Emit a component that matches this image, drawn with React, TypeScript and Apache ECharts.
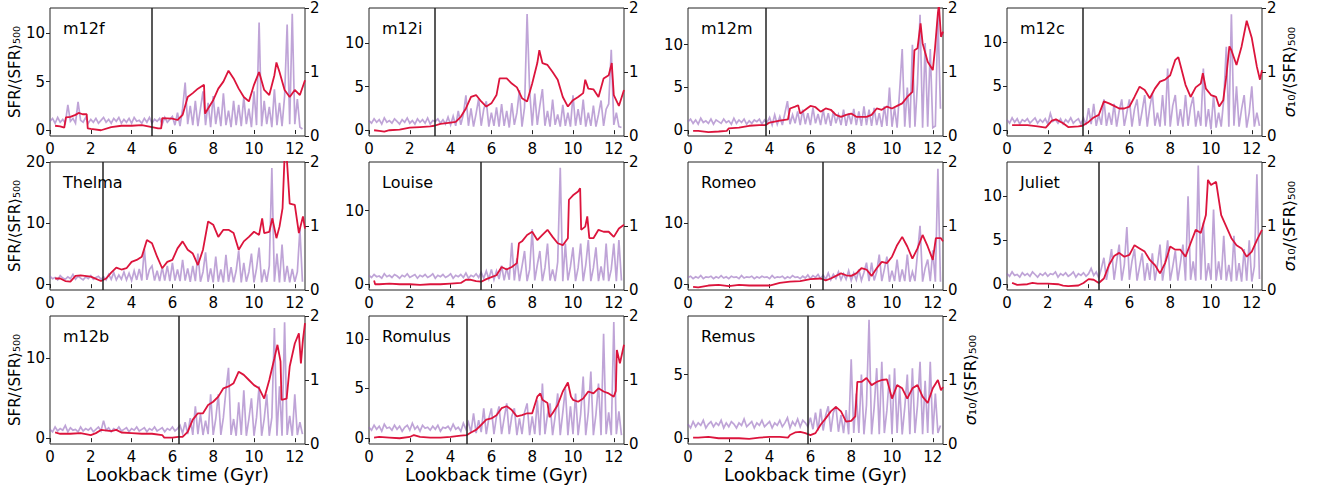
import React, { useEffect, useRef } from "react";
import * as echarts from "echarts";

// ---------------- data ----------------
const galaxyNames = ["m12f", "m12i", "m12m", "m12c", "Thelma", "Louise", "Romeo", "Juliet", "m12b", "Romulus", "Remus"];
const transitionTimes = [5.0, 3.2, 3.8, 3.7, 2.6, 5.5, 6.6, 4.5, 6.3, 4.8, 5.85];
const leftAxisMin = [-0.62, -0.67, -0.68, -0.66, -0.95, -0.8, -0.95, -0.66, -0.73, -0.59, -0.46];
const leftAxisMax = [12.6, 14.0, 14.3, 13.9, 20.0, 16.6, 19.9, 13.9, 15.3, 12.3, 9.6];
const leftTickValues = [[0, 5, 10], [0, 5, 10], [0, 5, 10], [0, 5, 10], [0, 10, 20], [0, 10], [0, 10], [0, 5, 10], [0, 10], [0, 5, 10], [0, 5]];
const rightTickValues = [0, 1, 2];
const timeTicks = [0, 2, 4, 6, 8, 10, 12];
const sfrTimeStep = 0.125; // Gyr between SFR samples, first sample at 0

// SFR / <SFR>_500 (left axis)
const sfrM12f = [
  0.9,1.2,0.7,1.3,0.8,1.1,0.7,2.6,0.9,1.2,0.7,2.9,1.0,0.8,1.3,0.7,
  1.1,0.8,1.2,0.7,1.0,1.3,0.8,1.1,0.7,1.2,0.9,1.3,0.7,1.1,0.8,1.2,
  0.7,1.3,0.9,1.0,0.7,1.2,0.8,1.3,0.7,1.1,0.9,1.2,0.6,1.3,0.8,1.1,
  1.4,0.5,1.8,0.4,2.2,4.9,0.6,2.5,0.5,3.0,0.4,2.2,4.0,0.5,2.8,0.3,
  3.5,0.6,2.4,0.4,3.8,0.5,2.0,0.3,3.0,0.5,2.6,0.4,3.4,0.6,2.2,0.3,
  4.0,0.5,11.1,0.4,3.0,0.6,2.4,0.3,4.2,0.5,2.8,0.4,3.5,10.9,0.6,12.0,
  0.6,3.2,0.3,0.1,
];
const sfrM12i = [
  1.1,0.8,1.3,0.9,1.2,0.7,1.4,0.9,1.1,0.8,1.3,1.0,0.7,1.2,0.9,1.4,
  0.8,1.1,0.7,1.3,0.9,1.2,0.8,1.4,0.7,1.1,1.0,1.3,0.8,1.2,0.7,1.5,
  0.6,1.6,0.5,2.2,0.6,1.8,4.0,0.5,
  2.5,0.4,1.9,3.6,0.5,2.4,3.3,0.4,
  2.0,0.5,2.6,0.4,3.0,0.5,2.2,0.3,
  3.1,0.6,2.0,4.6,0.4,2.6,13.3,4.5,
  0.5,4.2,0.6,2.8,4.7,0.5,2.2,0.4,
  3.5,0.6,1.8,0.4,2.9,0.5,2.0,0.4,
  4.0,0.5,2.4,0.6,3.5,0.4,2.0,0.5,
  2.8,0.4,1.8,3.4,0.5,2.4,3.0,9.2,
  0.6,2.0,0.4,0.3,
];
const sfrM12m = [
  1.0,1.3,0.8,1.2,0.7,1.4,0.9,1.1,0.8,1.3,0.7,1.2,1.0,0.8,1.3,0.9,
  1.1,0.7,1.4,0.8,1.2,0.9,1.3,0.7,1.1,0.8,1.2,1.0,1.3,0.7,1.2,0.9,
  1.5,0.6,1.8,0.7,1.6,0.6,2.0,3.4,
  0.7,1.8,0.8,2.2,0.6,2.4,0.7,2.0,
  0.6,2.6,0.8,1.9,0.6,2.4,0.7,2.0,
  0.5,2.2,0.8,1.8,0.6,2.4,0.5,2.0,
  0.7,2.5,0.6,2.2,0.5,2.8,0.6,2.4,
  0.5,2.6,0.6,2.0,0.4,2.8,0.5,5.0,
  0.4,2.6,0.3,4.6,9.5,0.4,5.0,0.3,
  10.0,0.4,5.5,13.5,0.3,10.2,0.4,9.5,
  0.3,0.5,13.5,2.5,
];
const sfrM12c = [
  1.2,0.8,1.4,0.9,1.3,0.7,1.2,1.0,1.3,0.8,1.1,1.4,0.8,1.2,0.9,1.3,
  0.7,1.9,1.0,1.2,0.8,1.3,0.7,1.2,0.9,1.4,0.8,1.1,1.3,0.7,
  1.4,0.6,2.5,0.7,3.0,0.5,1.8,0.6,
  3.5,0.5,2.0,0.6,3.0,0.4,2.2,3.5,
  0.5,2.0,3.5,0.4,2.4,3.5,0.5,2.2,
  4.0,0.4,2.6,4.2,0.5,2.0,0.4,4.0,
  0.5,7.0,0.4,2.8,4.0,0.5,2.4,0.4,
  4.0,0.5,2.6,3.8,0.4,2.2,0.5,7.0,
  0.4,2.4,0.1,4.0,0.3,2.0,0.4,3.5,
  9.5,0.4,13.2,0.5,5.0,0.4,2.4,4.0,
  0.3,2.0,5.0,0.4,2.0,0.5,
];
const sfrThelma = [
  1.3,0.9,1.1,0.7,1.4,1.0,0.8,1.2,0.9,1.6,0.8,1.3,1.0,0.7,1.2,0.9,1.4,0.8,1.1,1.3,0.8,
  1.2,0.7,1.6,0.8,1.9,0.7,1.5,0.8,
  2.0,0.7,1.8,0.6,2.2,0.7,2.5,0.6,
  5.8,0.7,2.4,3.0,0.6,2.2,0.5,2.8,
  0.6,3.0,0.5,3.5,0.6,2.4,0.5,4.0,
  0.6,2.6,0.4,3.0,0.5,5.0,0.4,2.0,
  5.2,0.4,2.6,0.3,4.5,0.4,2.4,0.3,
  4.8,0.4,2.8,0.3,2.2,5.5,0.3,3.5,
  0.4,2.0,5.0,0.3,2.6,6.0,0.3,2.4,
  0.4,3.0,19.0,0.4,5.0,0.3,6.5,0.4,
  3.0,0.3,2.5,0.4,2.0,9.0,0.4,
];
const sfrLouise = [
  1.2,0.9,1.3,1.0,1.1,0.8,1.4,1.0,1.2,0.9,1.3,1.1,0.8,1.2,1.0,1.4,
  0.9,1.1,1.3,0.8,1.2,1.0,1.3,0.9,1.1,1.4,0.8,1.2,1.0,1.3,0.9,1.1,
  1.4,0.8,1.2,1.0,1.3,0.9,1.5,0.8,1.2,1.0,1.4,0.9,
  1.6,0.8,1.8,0.7,2.0,0.6,1.8,0.7,
  2.5,0.5,2.2,0.6,5.6,0.5,3.5,0.4,
  2.4,4.5,0.4,2.0,7.5,0.5,2.6,4.5,
  0.4,2.2,5.5,0.5,2.0,0.4,3.0,15.8,
  0.4,5.5,0.5,2.4,5.0,0.4,2.2,5.5,
  0.4,2.6,6.0,0.4,2.2,5.0,0.4,2.4,
  0.5,5.5,0.4,2.0,5.5,0.4,6.0,0.5,
];
const sfrRomeo = [
  1.1,1.3,0.9,1.2,1.0,1.4,0.9,1.2,1.1,1.3,0.9,1.2,1.0,1.4,1.0,1.2,
  0.9,1.3,1.1,1.2,0.9,1.4,1.0,1.2,1.1,1.3,0.9,1.2,1.0,1.3,1.1,1.2,
  0.9,1.4,1.0,1.2,1.1,1.3,0.9,1.2,1.0,1.4,1.1,1.2,0.9,1.3,1.0,1.5,
  0.9,1.4,1.1,1.6,0.9,
  1.5,0.8,1.8,0.7,1.6,0.9,2.0,0.7,
  1.7,0.8,2.2,0.6,1.8,0.7,2.4,0.6,
  1.9,3.5,0.5,3.5,0.6,2.0,4.8,0.5,
  2.4,4.5,0.4,2.2,0.5,4.0,0.4,2.4,
  0.5,4.8,0.4,2.0,0.5,5.0,9.5,0.4,
  2.6,4.0,0.5,5.5,0.4,18.8,0.4,
];
const sfrJuliet = [
  1.2,0.9,1.4,1.0,1.1,0.8,1.3,1.0,1.2,0.9,1.4,1.1,0.8,1.2,1.0,1.3,
  0.9,1.2,1.1,1.4,0.8,1.2,1.0,1.3,0.9,1.1,1.4,0.8,1.2,1.0,1.3,0.9,
  1.2,1.8,1.0,1.4,
  0.7,1.8,3.0,0.5,2.2,4.0,0.5,2.6,
  4.5,0.4,2.2,6.5,0.5,2.6,4.0,0.4,
  2.0,3.5,0.4,2.4,0.5,3.5,0.4,2.2,
  4.5,0.4,2.4,5.0,0.4,2.0,3.8,0.4,
  2.4,4.5,0.4,10.0,0.5,2.6,0.4,13.5,
  0.5,7.0,0.4,2.4,0.5,8.5,0.4,2.6,
  0.5,5.5,0.4,2.2,0.3,5.5,0.4,2.4,
  0.3,4.0,0.4,5.0,0.3,2.0,12.5,0.6,
];
const sfrM12b = [
  1.1,0.8,1.4,0.9,1.2,1.0,1.6,0.8,1.3,1.0,1.1,0.8,1.4,0.9,1.2,1.0,
  1.3,0.8,1.1,1.4,0.9,2.2,1.0,1.3,0.8,1.2,1.0,1.4,0.9,1.1,1.3,0.8,
  1.2,1.0,1.4,0.9,1.1,1.3,0.8,1.2,1.0,1.4,0.9,1.1,1.3,0.8,1.2,1.0,
  1.4,0.9,1.2,
  1.6,0.6,2.0,0.5,2.5,0.4,4.0,0.5,
  3.0,0.4,2.2,0.5,5.5,0.4,2.4,5.5,
  0.4,2.6,6.0,8.8,0.4,2.4,0.3,4.5,
  0.4,6.0,0.3,2.4,5.0,0.3,2.6,6.5,
  0.3,2.4,5.5,0.3,2.6,13.8,0.3,6.5,
  0.3,14.5,0.4,2.8,0.3,5.5,0.4,2.0,
  0.5,
];
const sfrRomulus = [
  1.1,0.8,1.3,0.9,1.2,0.7,1.4,1.0,1.1,0.8,1.3,0.9,1.2,0.7,1.1,1.3,
  0.8,1.5,0.9,1.2,0.7,1.3,1.0,1.1,0.8,1.2,0.9,1.3,0.7,1.1,1.0,1.2,
  0.8,1.4,0.9,1.1,0.7,1.5,0.9,
  1.6,0.6,2.5,0.5,1.8,0.6,3.0,0.4,
  2.0,3.0,0.4,2.2,3.2,0.4,2.0,3.5,
  0.4,2.2,3.0,0.3,2.0,0.4,2.6,3.5,
  0.3,2.2,0.4,3.8,0.3,5.5,0.4,2.4,
  3.5,0.3,2.2,4.5,0.3,2.6,5.0,0.3,
  3.2,0.4,4.5,0.3,2.4,6.2,0.3,2.6,
  6.7,0.3,2.4,5.5,0.3,10.5,0.4,2.6,
  0.3,11.7,0.4,2.7,0.3,
];
const sfrRemus = [
  1.1,0.8,1.3,0.9,1.2,1.0,1.4,0.8,1.1,1.3,0.9,1.2,1.0,1.4,0.8,1.2,
  0.9,1.3,1.1,0.8,1.2,1.0,1.5,0.9,1.1,1.3,0.8,1.2,1.0,1.4,0.9,1.1,
  1.3,0.8,1.2,1.0,1.4,0.9,1.2,1.6,0.8,1.3,1.0,1.5,0.9,1.4,1.2,
  0.9,1.6,0.7,2.0,0.6,2.3,0.6,1.8,
  2.5,0.5,2.0,2.5,0.5,1.8,0.4,2.2,
  0.3,6.2,0.4,3.5,0.4,5.0,0.3,2.6,
  9.3,0.3,2.4,5.5,0.3,6.0,0.4,2.2,
  5.0,0.3,5.5,0.4,4.0,0.3,2.4,5.0,
  0.3,5.5,0.4,2.6,6.0,0.3,4.5,0.4,
  6.0,0.3,3.5,0.4,1.0,
];

// sigma_10 / <SFR>_500 (right axis), [lookback time Gyr, value]
const sigmaM12f = [
  [0.25,0.16],[0.5,0.15],[0.7,0.13],[0.78,0.29],[1.0,0.30],[1.25,0.33],[1.4,0.36],[1.6,0.34],[1.8,0.34],[1.85,0.12],
  [2.0,0.11],[2.5,0.09],[3.0,0.14],[3.5,0.16],[4.0,0.16],[4.5,0.17],[5.0,0.14],[5.3,0.12],[5.45,0.12],[5.5,0.28],
  [6.0,0.27],[6.25,0.25],[6.5,0.33],[6.75,0.61],[7.0,0.67],[7.25,0.74],[7.55,0.80],[7.6,0.35],[7.75,0.43],[8.0,0.56],
  [8.25,0.74],[8.5,0.85],[8.75,1.02],[9.0,0.9],[9.25,0.74],[9.5,0.61],[9.75,0.54],[10.0,0.80],[10.25,1.0],[10.5,0.72],
  [10.75,0.64],[11.0,0.95],[11.1,1.15],[11.25,1.0],[11.5,0.72],[11.75,0.61],[12.0,0.72],[12.25,0.64],[12.5,0.87],
];
const sigmaM12i = [
  [0.25,0.09],[0.5,0.08],[0.75,0.07],[1.0,0.09],[1.5,0.10],[2.0,0.13],[2.5,0.14],[3.0,0.15],[3.2,0.16],[3.5,0.19],
  [4.0,0.21],[4.25,0.22],[4.5,0.30],[4.75,0.43],[5.0,0.61],[5.25,0.64],[5.5,0.54],[5.75,0.46],[6.0,0.51],[6.25,0.64],
  [6.4,0.90],[6.75,0.90],[7.0,0.82],[7.25,0.76],[7.5,0.59],[7.75,0.54],[8.0,0.82],[8.25,1.14],[8.35,1.34],[8.5,1.14],
  [8.75,1.11],[9.0,1.0],[9.25,0.88],[9.5,0.61],[9.75,0.46],[10.0,0.56],[10.25,0.61],[10.5,0.67],[10.6,0.88],[10.75,0.74],
  [11.0,0.73],[11.25,0.61],[11.5,0.90],[11.75,0.95],[11.9,1.14],[12.0,0.64],[12.25,0.47],[12.5,0.72],
];
const sigmaM12m = [
  [0.25,0.08],[0.5,0.08],[1.0,0.06],[1.5,0.07],[1.9,0.08],[2.0,0.12],[2.5,0.13],[3.0,0.16],[3.5,0.17],[3.8,0.17],
  [4.0,0.21],[4.5,0.24],[4.9,0.26],[5.0,0.43],[5.25,0.46],[5.4,0.48],[5.5,0.35],[5.75,0.41],[6.0,0.47],[6.25,0.45],
  [6.5,0.38],[6.75,0.43],[7.0,0.41],[7.25,0.33],[7.5,0.30],[7.75,0.33],[8.0,0.35],[8.25,0.30],[8.5,0.30],[8.75,0.30],
  [9.0,0.33],[9.25,0.43],[9.5,0.41],[9.75,0.46],[10.0,0.43],[10.25,0.47],[10.5,0.51],[10.75,0.61],[11.0,0.69],[11.1,1.34],
  [11.25,1.37],[11.4,1.76],[11.5,1.45],[11.75,1.16],[12.0,1.03],[12.1,1.34],[12.25,1.92],[12.3,2.05],[12.4,1.55],[12.5,1.63],
];
const sigmaM12c = [
  [0.25,0.17],[0.5,0.17],[1.0,0.17],[1.5,0.15],[1.9,0.13],[2.2,0.24],[2.4,0.26],[2.75,0.20],[3.0,0.14],[3.5,0.15],
  [3.7,0.16],[4.0,0.22],[4.25,0.29],[4.5,0.33],[4.75,0.54],[5.0,0.51],[5.25,0.47],[5.5,0.43],[5.75,0.43],[6.0,0.46],
  [6.25,0.61],[6.5,0.77],[6.75,0.72],[7.0,0.59],[7.25,0.74],[7.5,0.85],[7.75,0.88],[8.0,0.95],[8.25,1.19],[8.4,1.23],
  [8.5,1.11],[8.75,0.80],[9.0,0.61],[9.25,0.76],[9.5,0.82],[9.6,0.98],[9.75,0.74],[10.0,0.64],[10.25,0.61],[10.4,0.46],
  [10.6,0.56],[10.75,0.93],[10.9,1.40],[11.0,1.34],[11.25,1.11],[11.5,1.40],[11.75,1.80],[12.0,1.53],[12.25,1.08],[12.4,0.88],
  [12.5,1.03],
];
const sigmaThelma = [
  [0.25,0.18],[0.5,0.18],[0.75,0.14],[1.0,0.13],[1.25,0.22],[1.5,0.23],[2.0,0.21],[2.5,0.14],[2.75,0.18],[3.0,0.27],
  [3.25,0.35],[3.5,0.32],[3.75,0.34],[4.0,0.44],[4.25,0.47],[4.5,0.52],[4.75,0.78],[5.0,0.73],[5.25,0.52],[5.5,0.34],
  [5.75,0.44],[6.0,0.47],[6.25,0.65],[6.5,0.76],[6.75,0.63],[7.0,0.57],[7.25,0.39],[7.5,0.63],[7.75,1.07],[8.0,1.02],
  [8.25,0.83],[8.5,0.94],[8.75,0.94],[9.0,0.89],[9.25,0.63],[9.5,0.76],[9.75,0.83],[10.0,0.91],[10.25,0.86],[10.4,1.12],
  [10.5,0.89],[10.75,0.91],[10.9,1.12],[11.1,0.81],[11.25,0.99],[11.4,1.28],[11.5,2.1],[11.6,2.1],[11.75,1.35],[12.0,1.33],
  [12.2,0.89],[12.4,1.15],[12.5,0.96],
];
const sigmaLouise = [
  [0.25,0.15],[0.3,0.09],[0.5,0.09],[1.0,0.10],[1.5,0.09],[2.0,0.09],[2.5,0.08],[3.0,0.09],[3.5,0.09],[4.0,0.10],
  [4.5,0.11],[4.75,0.16],[5.0,0.16],[5.25,0.14],[5.5,0.13],[5.75,0.17],[6.0,0.20],[6.25,0.23],[6.5,0.36],[6.75,0.32],
  [7.0,0.36],[7.25,0.42],[7.35,0.73],[7.5,0.76],[7.75,0.86],[8.0,0.91],[8.25,0.78],[8.5,0.86],[8.75,0.94],[9.0,0.83],
  [9.25,0.73],[9.5,0.70],[9.75,0.81],[9.8,1.41],[10.0,1.48],[10.25,1.54],[10.35,1.59],[10.4,0.94],[10.6,0.99],[10.7,1.15],
  [10.8,0.81],[11.0,0.81],[11.25,0.94],[11.5,0.91],[11.75,0.91],[12.0,0.83],[12.25,0.96],[12.5,1.02],
];
const sigmaRomeo = [
  [0.25,0.05],[0.5,0.04],[1.0,0.07],[1.5,0.08],[2.0,0.06],[2.5,0.08],[3.0,0.07],[3.5,0.07],[4.0,0.07],[4.5,0.11],
  [5.0,0.13],[5.5,0.14],[6.0,0.17],[6.5,0.18],[6.75,0.15],[7.0,0.18],[7.5,0.26],[7.75,0.23],[8.0,0.22],[8.25,0.26],
  [8.5,0.34],[8.75,0.32],[9.0,0.22],[9.25,0.34],[9.5,0.44],[9.75,0.42],[10.0,0.52],[10.25,0.70],[10.5,0.83],[10.75,0.68],
  [11.0,0.49],[11.25,0.65],[11.5,0.86],[11.75,0.68],[12.0,0.47],[12.15,0.81],[12.4,0.81],[12.5,0.76],
];
const sigmaJuliet = [
  [0.25,0.11],[0.5,0.08],[1.0,0.09],[1.25,0.11],[1.5,0.10],[2.0,0.10],[2.5,0.09],[2.75,0.07],[3.0,0.06],[3.5,0.07],
  [3.75,0.11],[4.0,0.17],[4.25,0.16],[4.5,0.11],[4.75,0.18],[5.0,0.39],[5.25,0.53],[5.5,0.58],[5.75,0.52],[6.0,0.55],
  [6.25,0.70],[6.5,0.65],[6.75,0.60],[7.0,0.47],[7.25,0.39],[7.5,0.26],[7.75,0.42],[8.0,0.68],[8.25,0.63],[8.5,0.63],
  [8.75,0.52],[9.0,0.73],[9.25,0.94],[9.5,0.89],[9.75,1.17],[9.85,1.72],[10.0,1.64],[10.25,1.69],[10.5,1.17],[10.75,0.99],
  [11.0,0.81],[11.25,0.70],[11.5,0.65],[11.75,0.52],[12.0,0.60],[12.25,0.78],[12.5,0.94],
];
const sigmaM12b = [
  [0.25,0.18],[0.5,0.16],[1.0,0.16],[1.5,0.17],[2.0,0.14],[2.25,0.17],[2.5,0.22],[3.0,0.20],[3.25,0.22],[3.5,0.18],
  [4.0,0.17],[4.5,0.16],[5.0,0.16],[5.5,0.14],[5.6,0.10],[6.0,0.10],[6.3,0.11],[6.5,0.11],[6.75,0.19],[7.0,0.38],
  [7.25,0.48],[7.5,0.48],[7.75,0.61],[8.0,0.66],[8.25,0.74],[8.5,0.87],[8.75,0.90],[9.0,0.95],[9.25,1.13],[9.5,1.08],
  [9.75,1.0],[10.0,0.92],[10.25,0.87],[10.5,0.71],[10.75,1.0],[11.0,1.34],[11.15,1.55],[11.3,1.29],[11.35,0.69],[11.6,0.71],
  [11.75,1.21],[12.0,1.57],[12.2,1.73],[12.3,1.26],[12.4,1.63],[12.5,1.89],
];
const sigmaRomulus = [
  [0.25,0.10],[0.5,0.11],[1.0,0.10],[1.5,0.09],[2.0,0.11],[2.2,0.14],[2.5,0.11],[3.0,0.10],[3.5,0.10],[4.0,0.11],
  [4.5,0.13],[4.8,0.14],[5.0,0.18],[5.25,0.22],[5.5,0.30],[5.75,0.38],[6.0,0.40],[6.25,0.45],[6.5,0.56],[6.75,0.59],
  [7.0,0.53],[7.25,0.43],[7.5,0.45],[7.75,0.48],[8.0,0.48],[8.25,0.74],[8.4,0.79],[8.5,0.69],[8.75,0.64],[8.85,0.42],
  [9.0,0.48],[9.25,0.61],[9.5,0.82],[9.75,0.96],[9.9,0.74],[10.0,0.69],[10.25,0.66],[10.5,0.71],[10.75,0.82],[11.0,0.79],
  [11.25,0.87],[11.5,0.82],[11.75,0.79],[12.0,0.74],[12.1,0.83],[12.15,1.47],[12.3,1.26],[12.5,1.55],
];
const sigmaRemus = [
  [0.25,0.10],[0.5,0.10],[1.0,0.11],[1.5,0.09],[2.0,0.09],[2.5,0.09],[3.0,0.08],[3.5,0.10],[4.0,0.11],[4.5,0.11],
  [4.9,0.10],[5.0,0.14],[5.25,0.18],[5.5,0.19],[5.75,0.17],[6.0,0.14],[6.25,0.17],[6.5,0.30],[6.75,0.40],[7.0,0.51],
  [7.25,0.58],[7.5,0.51],[7.75,0.35],[8.0,0.36],[8.2,0.43],[8.3,0.97],[8.5,0.97],[8.75,1.03],[9.0,0.92],[9.25,0.97],
  [9.5,1.0],[9.75,1.01],[10.0,0.71],[10.25,0.92],[10.5,0.87],[10.75,0.71],[11.0,0.87],[11.25,0.92],[11.5,0.74],[11.75,0.64],
  [12.0,0.87],[12.25,1.0],[12.4,0.84],[12.5,0.89],
];

const sfrSeries = [sfrM12f, sfrM12i, sfrM12m, sfrM12c, sfrThelma, sfrLouise, sfrRomeo, sfrJuliet, sfrM12b, sfrRomulus, sfrRemus];
const sigmaSeries = [sigmaM12f, sigmaM12i, sigmaM12m, sigmaM12c, sigmaThelma, sigmaLouise, sigmaRomeo, sigmaJuliet, sigmaM12b, sigmaRomulus, sigmaRemus];

// ---------------- layout / style ----------------
const W = 1321;
const H = 494;
const colLeft = [50, 369, 688, 1007];
const rowTop = [8, 162, 316];
const panelW = 255;
const panelH = 128;
const FONT = "DejaVu Sans";
const PURPLE = "rgba(148,103,189,0.6)";
const RED = "#dc143c";

function panelPos(i: number) {
  const row = i < 4 ? 0 : i < 8 ? 1 : 2;
  const col = i < 4 ? i : i < 8 ? i - 4 : i - 8;
  return { row, col, left: colLeft[col], top: rowTop[row] };
}

function buildOption() {
  const grids: any[] = [];
  const xAxes: any[] = [];
  const yAxes: any[] = [];
  const series: any[] = [];
  const graphics: any[] = [];

  galaxyNames.forEach((name, i) => {
    const { row, col, left, top } = panelPos(i);
    grids.push({
      left, top, width: panelW, height: panelH,
      show: true, borderColor: "#222", borderWidth: 1, backgroundColor: "transparent",
    });
    xAxes.push({
      gridIndex: i, type: "value", min: 0, max: 12.5,
      axisLine: { show: false },
      axisTick: { show: true, inside: false, length: 4, customValues: timeTicks, lineStyle: { color: "#222", width: 1 } },
      axisLabel: { customValues: timeTicks, fontSize: 15, color: "#000", fontFamily: FONT, margin: 5 },
      splitLine: { show: false },
      name: row === 2 ? "Lookback time (Gyr)" : "",
      nameLocation: "middle", nameGap: 21,
      nameTextStyle: { fontSize: 18, color: "#000", fontFamily: FONT },
    });
    yAxes.push({
      gridIndex: i, type: "value", position: "left",
      min: leftAxisMin[i], max: leftAxisMax[i],
      axisLine: { show: false },
      axisTick: { show: true, inside: false, length: 4, customValues: leftTickValues[i], lineStyle: { color: "#222", width: 1 } },
      axisLabel: { customValues: leftTickValues[i], fontSize: 15, color: "#000", fontFamily: FONT, margin: 5 },
      splitLine: { show: false },
      name: col === 0 ? "SFR/⟨SFR⟩₅₀₀" : "",
      nameLocation: "middle", nameRotate: 90, nameGap: 28,
      nameTextStyle: { fontSize: 15, color: "#000", fontFamily: FONT },
    });
    const showRightName = i === 3 || i === 7 || i === 10;
    yAxes.push({
      gridIndex: i, type: "value", position: "right",
      min: 0, max: 2, interval: 1,
      axisLine: { show: false },
      axisTick: { show: true, inside: false, length: 4, customValues: rightTickValues, lineStyle: { color: "#222", width: 1 } },
      axisLabel: { customValues: rightTickValues, fontSize: 15, color: "#000", fontFamily: FONT, margin: 5 },
      splitLine: { show: false },
      name: showRightName ? "{s|σ}{n|₁₀/⟨SFR⟩₅₀₀}" : "",
      nameLocation: "middle", nameRotate: 90, nameGap: 19,
      nameTextStyle: {
        fontSize: 16, color: "#000", fontFamily: FONT,
        rich: {
          s: { fontSize: 16, fontStyle: "italic", fontFamily: FONT, color: "#000" },
          n: { fontSize: 16, fontFamily: FONT, color: "#000" },
        },
      },
    });
    series.push({
      type: "line", xAxisIndex: i, yAxisIndex: 2 * i,
      data: sfrSeries[i].map((v, k) => [k * sfrTimeStep, v]),
      showSymbol: false, symbol: "none", clip: true,
      lineStyle: { color: PURPLE, width: 1.7, join: "miter" },
      z: 2,
    });
    series.push({
      type: "line", xAxisIndex: i, yAxisIndex: 2 * i + 1,
      data: sigmaSeries[i],
      showSymbol: false, symbol: "none", clip: true,
      lineStyle: { color: RED, width: 1.8 },
      z: 3,
      markLine: {
        silent: true, symbol: ["none", "none"], label: { show: false },
        lineStyle: { color: "#222", width: 1.5, type: "solid" },
        data: [{ xAxis: transitionTimes[i] }],
        animation: false,
      },
    });
    graphics.push({
      type: "text",
      x: left + 13, y: top + 20.5,
      style: { text: name, fontSize: 16, fontFamily: FONT, fill: "#000", verticalAlign: "middle", align: "left" },
      z: 10,
    });
  });

  return {
    animation: false,
    backgroundColor: "#fff",
    grid: grids,
    xAxis: xAxes,
    yAxis: yAxes,
    series,
    graphic: graphics,
  };
}

export default function App() {
  const ref = useRef<HTMLDivElement>(null);
  useEffect(() => {
    if (!ref.current) return;
    const chart = echarts.init(ref.current, null, { renderer: "svg", width: W, height: H });
    chart.setOption(buildOption() as any);
    return () => chart.dispose();
  }, []);
  return (
    <div
      ref={ref}
      style={{ position: "absolute", left: 0, top: 0, width: W, height: H, background: "#fff" }}
    />
  );
}
